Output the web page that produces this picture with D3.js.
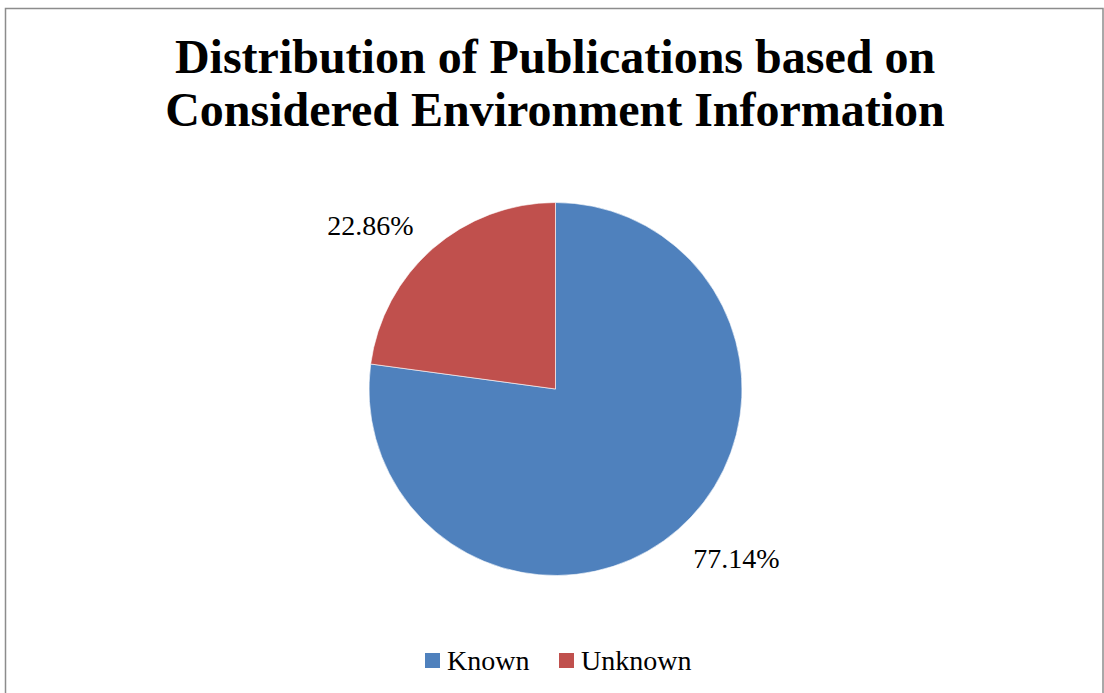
<!DOCTYPE html>
<html>
<head>
<meta charset="utf-8">
<script src="https://cdn.jsdelivr.net/npm/d3@7"></script>
<style>
  html, body { margin: 0; padding: 0; background: #fff; }
  svg { display: block; }
</style>
</head>
<body>
<svg id="chart" width="1104" height="693"></svg>
<script>
// Share of publications by whether the environment information is known
const categories = ["Known", "Unknown"];
const values = [77.14, 22.86];
const colors = ["#4f81bd", "#c0504d"];
const titleLines = ["Distribution of Publications based on", "Considered Environment Information"];

const svg = d3.select("#chart");
const W = 1104, H = 693;
const serif = "'Liberation Serif', 'Times New Roman', serif";

// chart area frame
svg.append("rect")
  .attr("x", 5.5).attr("y", 8.5)
  .attr("width", W - 6.5).attr("height", H)
  .attr("fill", "#fff")
  .attr("stroke", "#8c8c8c")
  .attr("stroke-width", 1.5);

// title
svg.append("g").selectAll("text")
  .data(titleLines)
  .join("text")
  .attr("x", 555)
  .attr("y", (d, i) => 73 + i * 53)
  .attr("text-anchor", "middle")
  .attr("font-family", serif)
  .attr("font-weight", "bold")
  .attr("font-size", 48)
  .attr("fill", "#000")
  .text(d => d);

// pie, starting at 12 o'clock and running clockwise
const cx = 555.5, cy = 389, r = 186.5;
const data = categories.map((c, i) => ({ name: c, value: values[i], color: colors[i] }));
const pie = d3.pie().value(d => d.value).sort(null);
const arcs = pie(data);
const arc = d3.arc().innerRadius(0).outerRadius(r);

const g = svg.append("g").attr("transform", `translate(${cx},${cy})`);
g.selectAll("path")
  .data(arcs)
  .join("path")
  .attr("d", arc)
  .attr("fill", d => d.data.color)
  .attr("stroke", "#fff")
  .attr("stroke-width", 0.6);

// value labels sit just outside the pie near each slice's end
const labelPos = [[181, 169], [-185, -164]];
g.selectAll("text.val")
  .data(arcs)
  .join("text")
  .attr("class", "val")
  .attr("x", (d, i) => labelPos[i][0])
  .attr("y", (d, i) => labelPos[i][1])
  .attr("font-family", serif)
  .attr("font-size", 28)
  .attr("fill", "#000")
  .attr("text-anchor", "middle")
  .attr("dominant-baseline", "central")
  .text(d => d.data.value.toFixed(2) + "%");

// legend
const legend = svg.append("g");
const legendX = [425, 559];
data.forEach((d, i) => {
  const lx = legendX[i];
  legend.append("rect")
    .attr("x", lx).attr("y", 653)
    .attr("width", 15).attr("height", 15)
    .attr("fill", d.color);
  legend.append("text")
    .attr("x", lx + 22).attr("y", 670)
    .attr("font-family", serif)
    .attr("font-size", 28)
    .attr("fill", "#000")
    .text(d.name);
});
</script>
</body>
</html>
